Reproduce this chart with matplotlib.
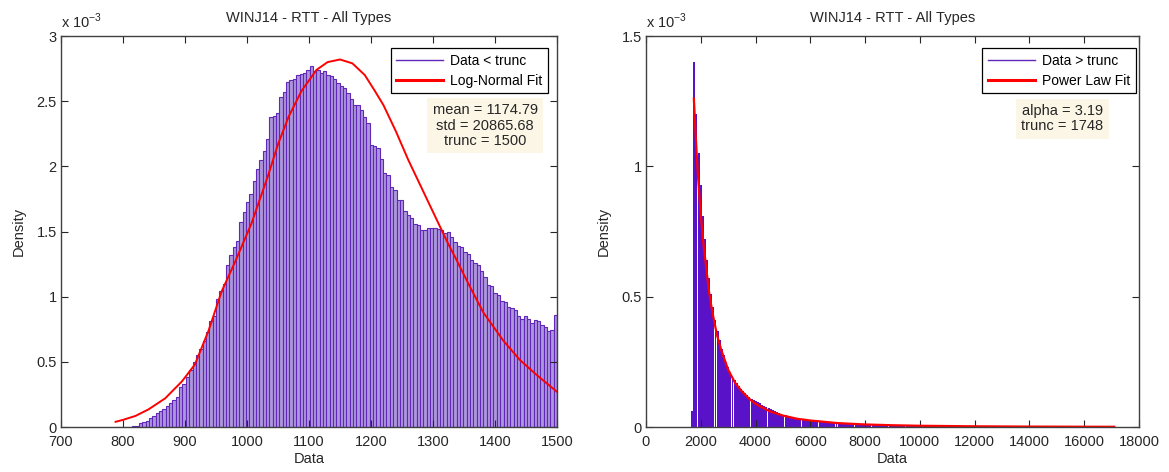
import matplotlib
matplotlib.use('Agg')
import matplotlib.pyplot as plt
import numpy as np
from matplotlib.lines import Line2D
from matplotlib.ticker import FormatStrFormatter

plt.rcParams['font.family'] = ['Liberation Sans', 'DejaVu Sans']
plt.rcParams['mathtext.fontset'] = 'custom'
plt.rcParams['mathtext.rm'] = 'Liberation Sans'

# ---- left panel: data below trunc (density, x 1e-3) ----
left_start = 788.0
left_width = 5.394
left_density = [
    0, 0, 0, 0, 0, 0.005, 0.011, 0.03, 0.038, 0.049,
    0.066, 0.087, 0.105, 0.123, 0.136, 0.161, 0.187, 0.207, 0.232, 0.31,
    0.33, 0.38, 0.44, 0.50, 0.55, 0.60, 0.66, 0.73, 0.81, 0.85,
    0.98, 1.04, 1.10, 1.24, 1.32, 1.38, 1.43, 1.57, 1.65, 1.73,
    1.79, 1.89, 1.98, 2.05, 2.12, 2.21, 2.375, 2.39, 2.41, 2.53,
    2.57, 2.65, 2.66, 2.67, 2.70, 2.71, 2.72, 2.74, 2.77, 2.73,
    2.74, 2.72, 2.73, 2.70, 2.69, 2.67, 2.64, 2.62, 2.60, 2.56,
    2.52, 2.47, 2.47, 2.43, 2.38, 2.33, 2.16, 2.155, 2.14, 2.06,
    1.95, 1.93, 1.84, 1.82, 1.74, 1.74, 1.66, 1.63, 1.60, 1.56,
    1.55, 1.51, 1.51, 1.53, 1.53, 1.53, 1.52, 1.51, 1.49, 1.50,
    1.46, 1.42, 1.39, 1.38, 1.34, 1.33, 1.28, 1.255, 1.24, 1.20,
    1.15, 1.09, 1.08, 1.03, 1.01, 0.97, 0.96, 0.92, 0.91, 0.90,
    0.85, 0.83, 0.85, 0.83, 0.80, 0.82, 0.815, 0.78, 0.77, 0.74,
    0.745, 0.86,
]
left_fit_x = [788, 800, 820, 841, 868, 895, 916, 938, 959, 981,
              1007, 1034, 1050, 1067, 1088, 1112, 1130, 1150, 1170, 1190,
              1206, 1220, 1240, 1260, 1282, 1303, 1325, 1336, 1357, 1381,
              1413, 1440, 1467, 1500]
left_fit_y = [0.04, 0.055, 0.085, 0.135, 0.22, 0.35, 0.48, 0.74, 1.04, 1.27,
              1.56, 1.93, 2.17, 2.38, 2.58, 2.74, 2.80, 2.82, 2.79, 2.70,
              2.58, 2.47, 2.27, 2.05, 1.83, 1.62, 1.40, 1.30, 1.10, 0.88,
              0.665, 0.515, 0.40, 0.27]
left_stats = "mean = 1174.79\nstd = 20865.68\ntrunc = 1500"

# ---- right panel: data above trunc (density, x 1e-3) ----
right_start = 1650.0
right_width = 77.5
right_density = [
    0.06, 1.40, 1.20, 1.05, 0.93, 0.81, 0.72, 0.64, 0.57, 0.51,
    0.46, 0.41, 0.37, 0.335, 0.30, 0.275, 0.25, 0.23, 0.212, 0.196,
    0.181, 0.168, 0.157, 0.147, 0.138, 0.13, 0.122, 0.116, 0.109, 0.104,
    0.099, 0.095, 0.091, 0.086, 0.082, 0.078, 0.073, 0.069, 0.064, 0.060,
    0.056, 0.053, 0.050, 0.047, 0.045, 0.042, 0.040, 0.037, 0.035, 0.033,
    0.031, 0.030, 0.028, 0.027, 0.026, 0.025, 0.024, 0.023, 0.022, 0.021,
    0.020, 0.019, 0.018, 0.018, 0.017, 0.016, 0.016, 0.015, 0.015, 0.014,
    0.014, 0.013, 0.013, 0.012, 0.012, 0.011, 0.011, 0.011, 0.010, 0.010,
    0.010, 0.009, 0.009, 0.009, 0.008, 0.008, 0.008, 0.007, 0.007, 0.007,
    0.007, 0.006, 0.006, 0.006, 0.006, 0.006, 0.005, 0.005, 0.005, 0.005,
    0.005, 0.005, 0.005, 0.005, 0.0045, 0.0045, 0.0045, 0.0045, 0.0045, 0.0045,
    0.0045, 0.004, 0.004, 0.004, 0.004, 0.004, 0.004, 0.004, 0.004, 0.004,
    0.004, 0.0035, 0.0035, 0.0035, 0.0035, 0.0035, 0.0035, 0.0035, 0.0035, 0.0035,
    0.0035, 0.003, 0.003, 0.003, 0.003, 0.003, 0.003, 0.003, 0.003, 0.003,
    0.003, 0.0025, 0.0025, 0.0025, 0.0025, 0.0025, 0.0025, 0.0025, 0.0025, 0.0025,
    0.0025, 0.002, 0.002, 0.002, 0.002, 0.002, 0.002, 0.002, 0.002, 0.002,
    0.002, 0.002, 0.002, 0.0018, 0.0018, 0.0018, 0.0018, 0.0018, 0.0018, 0.0018,
    0.0018, 0.0018, 0.0018, 0.0018, 0.0018, 0.0018, 0.0015, 0.0015, 0.0015, 0.0015,
    0.0015, 0.0015, 0.0015, 0.0015, 0.0015, 0.0015, 0.0015, 0.0015, 0.0012, 0.0012,
    0.0012, 0.0012, 0.0012, 0.0012, 0.0012, 0.0012, 0.0012, 0.0012, 0.0012, 0.0012,
]
right_fit_x = [1748, 1800, 1850, 1900, 2000, 2100, 2200, 2300, 2400, 2500,
               2600, 2750, 2900, 3000, 3250, 3500, 3750, 4000, 4500, 5000,
               5500, 6000, 7000, 8000, 9000, 10000, 12000, 14000, 16000, 17100]
right_fit_y = [1.26, 1.15, 1.05, 0.96, 0.815, 0.70, 0.61, 0.52, 0.455, 0.40,
               0.35, 0.295, 0.25, 0.22, 0.17, 0.137, 0.11, 0.089, 0.061, 0.044,
               0.032, 0.025, 0.015, 0.0098, 0.0068, 0.0048, 0.0027, 0.0016, 0.0011, 0.0009]
right_stats = "alpha = 3.19\ntrunc = 1748"

title = "WINJ14 - RTT - All Types"
purple = '#6027b8'
red = '#ff0000'
fs = 10.5
text_col = '#262626'


def style_axes(ax):
    ax.tick_params(direction='in', top=True, right=True, length=5,
                   labelsize=fs, colors=text_col)
    ax.tick_params(axis='x', pad=6)
    ax.tick_params(axis='y', pad=3)
    for sp in ax.spines.values():
        sp.set_color('#404040')
        sp.set_linewidth(1.0)
    ax.yaxis.set_major_formatter(FormatStrFormatter('%g'))
    ax.set_title(title, fontsize=fs, color=text_col, pad=10)
    ax.set_xlabel("Data", fontsize=fs, labelpad=2, color=text_col)
    ax.set_ylabel("Density", fontsize=fs, labelpad=8, color=text_col)
    ax.text(0.0, 1.012, r'x 10$^{-3}$', transform=ax.transAxes,
            fontsize=fs, ha='left', va='bottom', color=text_col)


fig = plt.figure(figsize=(11.69, 4.72), dpi=100)

# left
ax1 = fig.add_axes([0.0522, 0.0953, 0.4243, 0.8284])
edges1 = left_start + left_width * np.arange(len(left_density))
ax1.bar(edges1, left_density, width=left_width, align='edge',
        facecolor='#ad97db', edgecolor=purple, linewidth=0.8)
ax1.plot(left_fit_x, left_fit_y, color=red, linewidth=1.4)
ax1.set_xlim(700, 1500)
ax1.set_ylim(0, 3)
ax1.set_xticks(np.arange(700, 1501, 100))
ax1.set_yticks([0, 0.5, 1, 1.5, 2, 2.5, 3])
style_axes(ax1)
h1 = [Line2D([], [], color=purple, lw=1.0), Line2D([], [], color=red, lw=2.2)]
leg1 = ax1.legend(h1, ["Data < trunc", "Log-Normal Fit"], loc='upper right',
                  bbox_to_anchor=(0.982, 0.969), borderaxespad=0,
                  fontsize=10, handlelength=3.4,
                  handletextpad=0.5, labelspacing=0.45,
                  fancybox=False, framealpha=1, edgecolor='black')
leg1.get_frame().set_linewidth(0.9)
ax1.text(0.855, 0.771, left_stats, transform=ax1.transAxes, fontsize=fs,
         ha='center', va='center', linespacing=1.1, color=text_col,
         bbox=dict(boxstyle='square,pad=0.35', facecolor='#fcf6e6', edgecolor='none'))

# right
ax2 = fig.add_axes([0.5526, 0.0953, 0.4217, 0.8284])
edges2 = right_start + right_width * np.arange(len(right_density))
ax2.bar(edges2, right_density, width=right_width * 0.93, align='edge',
        facecolor='#5a12c8', edgecolor='none')
ax2.plot(right_fit_x, right_fit_y, color=red, linewidth=1.6)
ax2.set_xlim(0, 18000)
ax2.set_ylim(0, 1.5)
ax2.set_xticks(np.arange(0, 18001, 2000))
ax2.set_yticks([0, 0.5, 1, 1.5])
style_axes(ax2)
h2 = [Line2D([], [], color=purple, lw=1.0), Line2D([], [], color=red, lw=2.2)]
leg2 = ax2.legend(h2, ["Data > trunc", "Power Law Fit"], loc='upper right',
                  bbox_to_anchor=(0.993, 0.969), borderaxespad=0,
                  fontsize=10, handlelength=3.4,
                  handletextpad=0.5, labelspacing=0.45,
                  fancybox=False, framealpha=1, edgecolor='black')
leg2.get_frame().set_linewidth(0.9)
ax2.text(0.845, 0.788, right_stats, transform=ax2.transAxes, fontsize=fs,
         ha='center', va='center', linespacing=1.1, color=text_col,
         bbox=dict(boxstyle='square,pad=0.35', facecolor='#fcf6e6', edgecolor='none'))

fig.savefig('out.png', dpi=100)
